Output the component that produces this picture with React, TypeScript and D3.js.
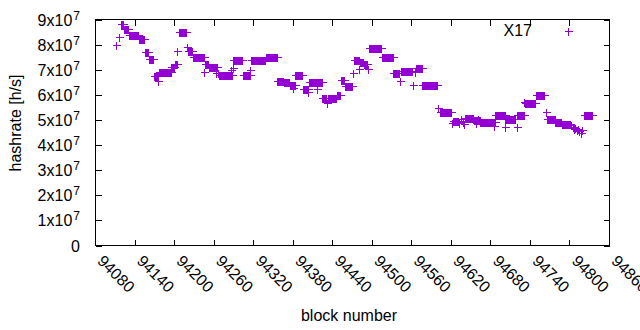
import React from 'react';
import * as d3 from 'd3';

// Constant-hashrate runs (first block, last block, hashrate in h/s)
const runFirst = [94118, 94124, 94131, 94146, 94155, 94161, 94169, 94177, 94195, 94200, 94206, 94220, 94228, 94246, 94252, 94268, 94289, 94304, 94316, 94338, 94356, 94366, 94375, 94383, 94395, 94404, 94424, 94433, 94446, 94452, 94458, 94473, 94481, 94487, 94495, 94515, 94532, 94543, 94566, 94576, 94603, 94623, 94641, 94654, 94664, 94687, 94702, 94720, 94732, 94748, 94765, 94778, 94788, 94821];
const runLast = [94122, 94130, 94145, 94154, 94160, 94168, 94175, 94194, 94199, 94203, 94218, 94226, 94245, 94251, 94264, 94287, 94303, 94314, 94337, 94355, 94365, 94374, 94382, 94394, 94403, 94423, 94430, 94445, 94451, 94457, 94469, 94480, 94486, 94492, 94514, 94531, 94541, 94560, 94575, 94598, 94620, 94630, 94653, 94663, 94686, 94701, 94717, 94731, 94747, 94760, 94777, 94787, 94800, 94833];
const runRate = [8.83e7, 8.62e7, 8.39e7, 8.24e7, 7.72e7, 7.44e7, 6.75e7, 6.89e7, 7.10e7, 7.23e7, 8.51e7, 7.73e7, 7.49e7, 7.22e7, 7.10e7, 6.78e7, 7.40e7, 6.78e7, 7.40e7, 7.52e7, 6.57e7, 6.50e7, 6.41e7, 6.78e7, 6.25e7, 6.51e7, 5.86e7, 5.88e7, 5.99e7, 6.59e7, 6.37e7, 7.39e7, 7.31e7, 7.23e7, 7.88e7, 7.51e7, 6.85e7, 6.96e7, 7.05e7, 6.41e7, 5.31e7, 4.97e7, 5.09e7, 4.98e7, 4.91e7, 5.20e7, 5.05e7, 5.18e7, 5.66e7, 5.98e7, 5.04e7, 4.90e7, 4.82e7, 5.18e7];

// Isolated blocks
const singleBlock = [94111, 94115, 94175, 94204, 94219, 94245, 94263, 94266, 94286, 94288, 94315, 94380, 94402, 94416, 94431, 94471, 94480, 94493, 94542, 94562, 94565, 94600, 94621, 94632, 94635, 94637, 94639, 94657, 94660, 94685, 94701, 94719, 94730, 94763, 94802, 94804, 94806, 94808, 94810, 94812, 94814, 94816, 94818];
const singleRate = [8.00e7, 8.30e7, 6.57e7, 7.73e7, 7.90e7, 6.91e7, 6.87e7, 6.87e7, 6.97e7, 7.05e7, 7.00e7, 6.28e7, 6.12e7, 6.25e7, 5.68e7, 6.85e7, 7.01e7, 7.01e7, 6.55e7, 6.41e7, 6.91e7, 5.46e7, 4.87e7, 4.87e7, 5.02e7, 4.90e7, 4.85e7, 4.88e7, 5.05e7, 4.77e7, 4.73e7, 4.73e7, 5.70e7, 5.32e7, 4.78e7, 4.70e7, 4.62e7, 4.66e7, 4.58e7, 4.62e7, 4.55e7, 4.47e7, 4.60e7];

const xTickValues = [94080, 94140, 94200, 94260, 94320, 94380, 94440, 94500, 94560, 94620, 94680, 94740, 94800, 94860];
const yTickMantissa = [0, 1, 2, 3, 4, 5, 6, 7, 8, 9];
const seriesName = 'X17';

const W = 640;
const H = 330;
const left = 95.5;
const right = 609.5;
const top = 19.5;
const bottom = 245.5;
const COLOR = '#9400D3';
const FONT = "'Liberation Sans', Arial, sans-serif";
const FS = 16;
const TICK = 6;
const M = 4;

export default function App() {
  const x = d3.scaleLinear().domain([94080, 94860]).range([left, right]);
  const y = d3.scaleLinear().domain([0, 9e7]).range([bottom, top]);

  const points: { b: number; v: number }[] = [];
  runFirst.forEach((f, i) => {
    for (let b = f; b <= runLast[i]; b++) points.push({ b, v: runRate[i] });
  });
  singleBlock.forEach((b, i) => points.push({ b, v: singleRate[i] }));

  const plus = (cx: number, cy: number) => {
    const px = Math.round(cx) + 0.5;
    const py = Math.round(cy) + 0.5;
    return `M${px - M},${py}H${px + M}M${px},${py - M}V${py + M}`;
  };
  const markerPath = points.map((p) => plus(x(p.b), y(p.v))).join('');

  return (
    <svg
      width={W}
      height={H}
      style={{ position: 'fixed', left: 0, top: 0, background: '#fff' }}
      fontFamily={FONT}
      fontSize={FS}
    >
      <rect x={0} y={0} width={W} height={H} fill="#fff" />
      <path d={markerPath} stroke={COLOR} strokeWidth={1} fill="none" shapeRendering="crispEdges" />
      {/* ticks */}
      <g stroke="#000" strokeWidth={1} shapeRendering="crispEdges">
        {yTickMantissa.map((m) => {
          const ty = Math.round(y(m * 1e7)) + 0.5;
          return (
            <g key={'yt' + m}>
              <line x1={left} x2={left + TICK} y1={ty} y2={ty} />
              <line x1={right} x2={right - TICK} y1={ty} y2={ty} />
            </g>
          );
        })}
        {xTickValues.map((v) => {
          const tx = Math.round(x(v) - 0.5) + 0.5;
          return (
            <g key={'xt' + v}>
              <line x1={tx} x2={tx} y1={bottom} y2={bottom - TICK} />
              <line x1={tx} x2={tx} y1={top} y2={top + TICK} />
            </g>
          );
        })}
        <rect x={left} y={top} width={right - left} height={bottom - top} fill="none" />
      </g>
      {/* y labels */}
      {yTickMantissa.map((m) => {
        const ty = y(m * 1e7);
        return m === 0 ? (
          <text key={'yl' + m} x={80} y={ty + 6} textAnchor="end" fill="#000">0</text>
        ) : (
          <text key={'yl' + m} x={80} y={ty + 6} textAnchor="end" fill="#000">
            {m}x10<tspan dx={1} dy={-6} fontSize={12}>7</tspan>
          </text>
        );
      })}
      {/* x labels */}
      {xTickValues.map((v) => {
        const tx = x(v) + 1;
        const ty = 262;
        return (
          <text key={'xl' + v} x={tx} y={ty} transform={`rotate(45 ${tx} ${ty})`} fill="#000">
            {v}
          </text>
        );
      })}
      <text x={349} y={321} textAnchor="middle" fill="#000">block number</text>
      <text x={21} y={123} textAnchor="middle" transform="rotate(-90 21 123)" fill="#000">hashrate [h/s]</text>
      {/* legend */}
      <text x={532} y={36} textAnchor="end" fill="#000">{seriesName}</text>
      <path d={plus(568, 31)} stroke={COLOR} strokeWidth={1} fill="none" shapeRendering="crispEdges" />
    </svg>
  );
}
